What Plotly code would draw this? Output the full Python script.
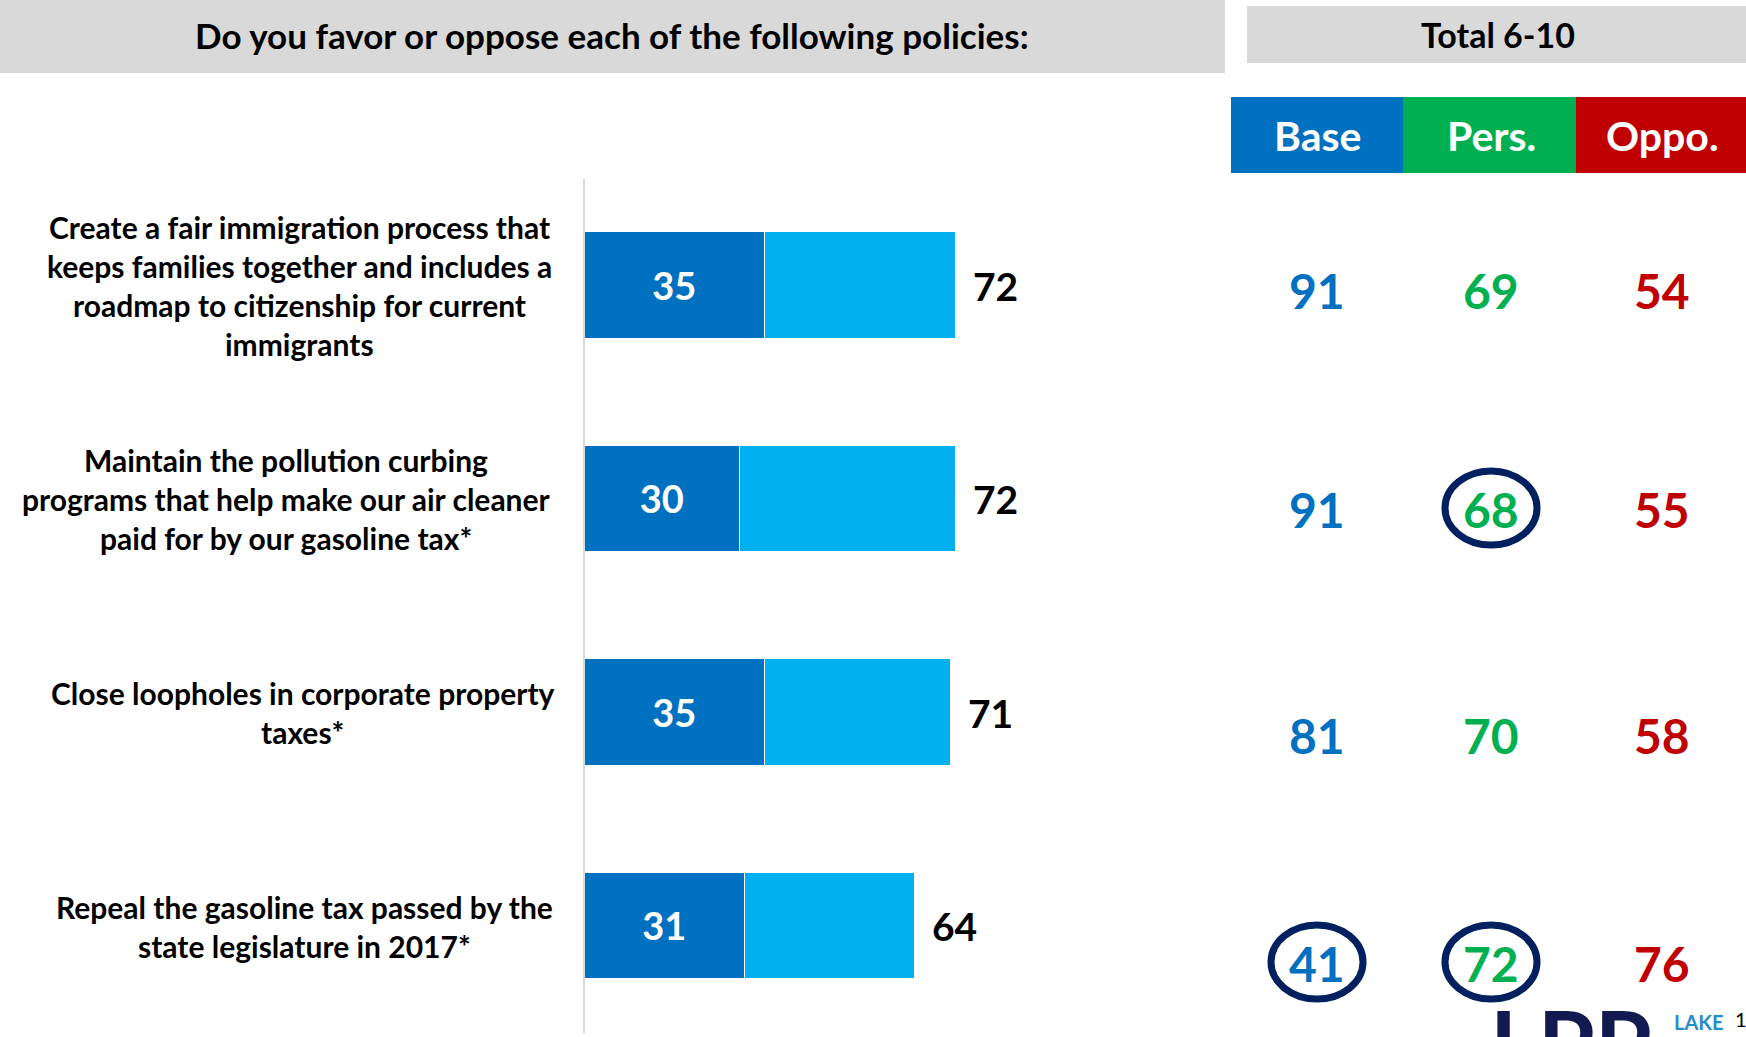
import plotly.graph_objects as go

# ---- data -------------------------------------------------------------
policy_lines = [
    ["Create a fair immigration process that",
     "keeps families together and includes a",
     "roadmap to citizenship for current",
     "immigrants"],
    ["Maintain the pollution curbing",
     "programs that help make our air cleaner",
     "paid for by our gasoline tax*"],
    ["Close loopholes in corporate property",
     "taxes*"],
    ["Repeal the gasoline tax passed by the",
     "state legislature in 2017*"],
]
strong_favor = [35, 30, 35, 31]
total_favor = [72, 72, 71, 64]

groups = ["Base", "Pers.", "Oppo."]
group_values = {
    "Base": [91, 91, 81, 41],
    "Pers.": [69, 68, 70, 72],
    "Oppo.": [54, 55, 58, 76],
}
circled = [(1, "Pers."), (3, "Base"), (3, "Pers.")]

title_text = "Do you favor or oppose each of the following policies:"
panel_title = "Total 6-10"

# ---- layout constants (pixels) ---------------------------------------
W, H = 1746, 1037
FONT = "Lato"
DARK = "#0070C0"
LIGHT = "#00B0F0"
GREY = "#D9D9D9"
NAVY = "#002060"
group_colors = {"Base": "#0070C0", "Pers.": "#00B050", "Oppo.": "#C00000"}
group_box_x = {"Base": (1231, 1403), "Pers.": (1403, 1576), "Oppo.": (1576, 1746)}
group_text_x = {"Base": 1317, "Pers.": 1491, "Oppo.": 1662}
row_text_y = [291, 509, 735, 963]
row_center_y = [285.7, 498.5, 712, 926]
label_center_x = [299, 286, 302.5, 304]
LINE_GAP = 39


def xp(x):
    return x / W


def yp(y):
    return 1 - y / H


fig = go.Figure()

rows = list(range(len(strong_favor)))
fig.add_trace(go.Bar(
    y=rows, x=strong_favor, orientation="h", width=0.5,
    marker=dict(color=DARK, line=dict(color="white", width=1.5)),
    text=[str(v) for v in strong_favor], textposition="inside",
    insidetextanchor="middle", constraintext="none",
    textfont=dict(family=FONT, size=38, color="white", weight="bold"),
    hoverinfo="skip", showlegend=False,
))
fig.add_trace(go.Bar(
    y=rows, x=[t - s for t, s in zip(total_favor, strong_favor)],
    orientation="h", width=0.5,
    marker=dict(color=LIGHT, line=dict(color="white", width=1.5)),
    hoverinfo="skip", showlegend=False,
))

shapes = []
annotations = []

# total labels at the end of each bar
for i, t in enumerate(total_favor):
    annotations.append(dict(
        x=t, y=i, xref="x", yref="y", xanchor="left", yanchor="middle",
        xshift=15, text=str(t), showarrow=False,
        font=dict(family=FONT, size=39, color="black", weight="bold"),
    ))

# policy labels, centred block beside each bar
for i, lines in enumerate(policy_lines):
    n = len(lines)
    for k, line in enumerate(lines):
        y = row_center_y[i] + (k - (n - 1) / 2) * LINE_GAP
        annotations.append(dict(
            x=xp(label_center_x[i]), y=yp(y), xref="paper", yref="paper",
            xanchor="center", yanchor="middle", text=line, showarrow=False,
            font=dict(family=FONT, size=30, color="black", weight="bold"),
        ))

# header bars
shapes.append(dict(type="rect", xref="paper", yref="paper",
                   x0=xp(0), x1=xp(1225), y0=yp(73), y1=yp(0),
                   fillcolor=GREY, line=dict(width=0), layer="below"))
shapes.append(dict(type="rect", xref="paper", yref="paper",
                   x0=xp(1247), x1=xp(1746), y0=yp(63), y1=yp(6),
                   fillcolor=GREY, line=dict(width=0), layer="below"))
annotations.append(dict(
    x=xp(612), y=yp(35), xref="paper", yref="paper", xanchor="center",
    yanchor="middle", text=title_text, showarrow=False,
    font=dict(family=FONT, size=35, color="black", weight="bold")))
annotations.append(dict(
    x=xp(1498), y=yp(35), xref="paper", yref="paper", xanchor="center",
    yanchor="middle", text=panel_title, showarrow=False,
    font=dict(family=FONT, size=34, color="black", weight="bold")))

# group header boxes and values
for g in groups:
    x0, x1 = group_box_x[g]
    shapes.append(dict(type="rect", xref="paper", yref="paper",
                       x0=xp(x0), x1=xp(x1), y0=yp(173), y1=yp(97),
                       fillcolor=group_colors[g], line=dict(width=0),
                       layer="below"))
    annotations.append(dict(
        x=xp(group_text_x[g]), y=yp(135), xref="paper", yref="paper",
        xanchor="center", yanchor="middle", text=g, showarrow=False,
        font=dict(family=FONT, size=41, color="white", weight="bold")))
    for i, v in enumerate(group_values[g]):
        annotations.append(dict(
            x=xp(group_text_x[g]), y=yp(row_text_y[i]), xref="paper",
            yref="paper", xanchor="center", yanchor="middle", text=str(v),
            showarrow=False,
            font=dict(family=FONT, size=48, color=group_colors[g],
                      weight="bold")))

# highlight rings
for i, g in circled:
    cx, cy = group_text_x[g], row_text_y[i] - 1
    shapes.append(dict(type="circle", xref="paper", yref="paper",
                       x0=xp(cx - 46), x1=xp(cx + 46),
                       y0=yp(cy + 37), y1=yp(cy - 37),
                       line=dict(color=NAVY, width=7)))

# footer logo and page number
annotations.append(dict(
    x=xp(1488), y=yp(1042), xref="paper", yref="paper", xanchor="left",
    yanchor="middle", text="LPP", showarrow=False,
    font=dict(family=FONT, size=92, color="#131A52", weight="bold")))
annotations.append(dict(
    x=xp(1672), y=yp(1022), xref="paper", yref="paper", xanchor="left",
    yanchor="middle", text="LAKE", showarrow=False,
    font=dict(family=FONT, size=20, color="#2A8CC8", weight="bold")))
annotations.append(dict(
    x=xp(1733), y=yp(1019), xref="paper", yref="paper", xanchor="left",
    yanchor="middle", text="1", showarrow=False,
    font=dict(family=FONT, size=20, color="black")))

fig.update_layout(
    width=W, height=H, margin=dict(l=0, r=0, t=0, b=0),
    paper_bgcolor="white", plot_bgcolor="white",
    barmode="stack", bargap=0, showlegend=False,
    xaxis=dict(domain=[xp(585), xp(1100.3)], range=[0, 100], visible=False,
               fixedrange=True),
    yaxis=dict(domain=[yp(1032.6), yp(179)], range=[3.5, -0.5],
               showline=True, linecolor=GREY, linewidth=2,
               showticklabels=False, showgrid=False, zeroline=False,
               ticks="", fixedrange=True),
    shapes=shapes, annotations=annotations,
)

fig.write_html("out.html", config={"displayModeBar": False})
